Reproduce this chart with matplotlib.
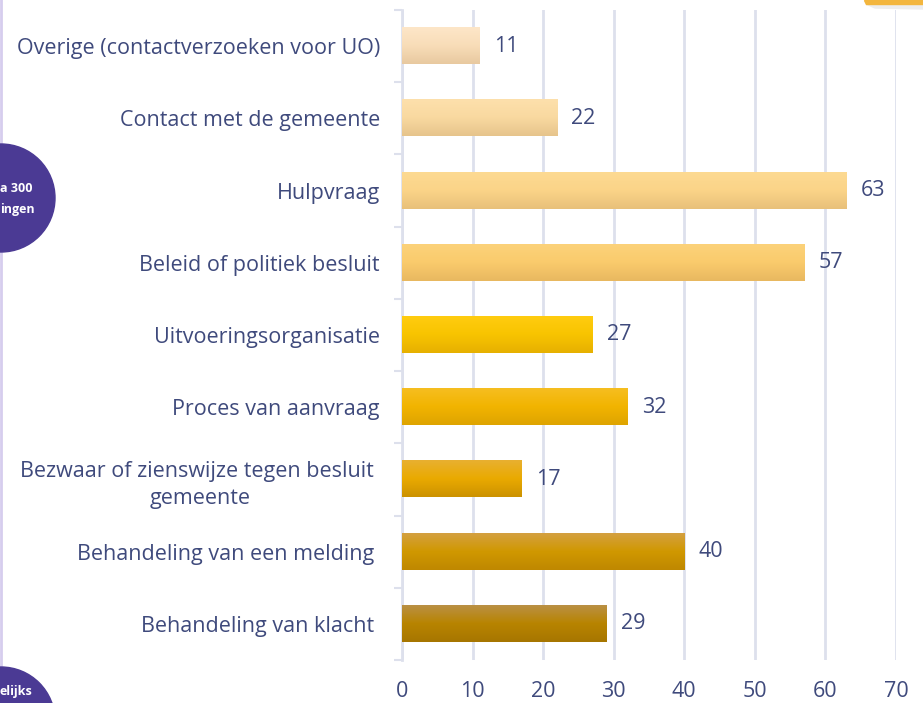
import numpy as np
import matplotlib.pyplot as plt
from matplotlib.patches import Circle, Polygon
from matplotlib.colors import LinearSegmentedColormap

plt.rcParams['font.family'] = ['Open Sans', 'DejaVu Sans']

categories = [
    "Overige (contactverzoeken voor UO)",
    "Contact met de gemeente",
    "Hulpvraag",
    "Beleid of politiek besluit",
    "Uitvoeringsorganisatie",
    "Proces van aanvraag",
    "Bezwaar of zienswijze tegen besluit \ngemeente",
    "Behandeling van een melding ",
    "Behandeling van klacht ",
]
values = [11, 22, 63, 57, 27, 32, 17, 40, 29]

# gradient kleuren per balk: boven, midden, onder
bar_colors = [
    ("#FDE6C8", "#F8DDB8", "#E8C9A0"),
    ("#FDE0AC", "#F9D9A0", "#E6C48C"),
    ("#FDDA92", "#FBD488", "#E8C07A"),
    ("#FCD27A", "#FACB6C", "#E8B860"),
    ("#FFCC10", "#F8C400", "#E6B000"),
    ("#F6BE20", "#F2B400", "#DEA400"),
    ("#E8B030", "#EAAA00", "#CC9200"),
    ("#D4A040", "#D09800", "#BF8800"),
    ("#BA9044", "#B88400", "#A67600"),
]

text_col = "#3F4A7C"
grid_col = "#DDE0EC"
purple = "#4B3A94"

fig = plt.figure(figsize=(9.23, 7.03), dpi=100)
ax = fig.add_axes([402 / 923, 1 - 660 / 703, (896 - 402) / 923, 650 / 703])

y = np.arange(len(categories))
h = 0.5
bars = ax.barh(y, values, height=h, color="none", edgecolor="none")
for b, cols, v in zip(bars, bar_colors, values):
    cmap = LinearSegmentedColormap.from_list("g", cols)
    grad = np.linspace(0, 1, 64).reshape(-1, 1)
    x0, y0 = b.get_x(), b.get_y()
    ax.imshow(grad, cmap=cmap, aspect="auto", origin="upper",
              extent=(x0, x0 + b.get_width(), y0 + b.get_height(), y0),
              zorder=3)
    ax.text(v + 2.0, b.get_y() + h / 2, str(v), va="center", ha="left",
            fontsize=15.5, color=text_col, zorder=4)

ax.set_xlim(0, 70)
ax.set_ylim(len(categories) - 0.5, -0.5)
ax.set_xticks(range(0, 71, 10))
ax.set_yticks(y)
ax.set_yticklabels(categories)
for lab in ax.get_yticklabels():
    lab.set_multialignment("center")
    lab.set_linespacing(1.35)
ax.set_yticks(np.arange(-0.5, len(categories), 1), minor=True)

ax.tick_params(axis="y", which="major", length=0, pad=16, labelsize=15.5,
               labelcolor=text_col)
ax.tick_params(axis="y", which="minor", length=6, width=1.5, color=grid_col)
ax.tick_params(axis="x", length=0, pad=15, labelsize=15.5, labelcolor=text_col)

ax.grid(axis="x", color=grid_col, linewidth=2)
ax.set_axisbelow(True)
for s in ["top", "right", "bottom"]:
    ax.spines[s].set_visible(False)
ax.spines["left"].set_color(grid_col)
ax.spines["left"].set_linewidth(2)

# paarse cirkels links (half buiten beeld)
bg = fig.add_axes([0, 0, 1, 1], zorder=-1)
bg.set_xlim(0, 923)
bg.set_ylim(703, 0)
bg.axis("off")
bg.plot([1, 1], [0, 703], color="#D6CDEE", linewidth=2)
for cy in [198, 721]:
    bg.add_patch(Circle((1, cy), 54, color=purple, zorder=2))
for txt, ty in [("a 300", 188), ("ingen", 209), ("elijks", 691)]:
    fig.text(0, 1 - ty / 703, txt, color="white", fontsize=9,
             fontweight="bold", ha="left", va="center")

# stukje gele vorm rechtsboven
bg.add_patch(Polygon([[866, 4], [923, 4], [923, 9], [875, 8]], color="#EDEDED", zorder=2))
bg.add_patch(Polygon([[864, 0], [923, 0], [923, 4], [866, 4]], color="#F3B63E", zorder=3))

fig.savefig("out.png", dpi=100)
